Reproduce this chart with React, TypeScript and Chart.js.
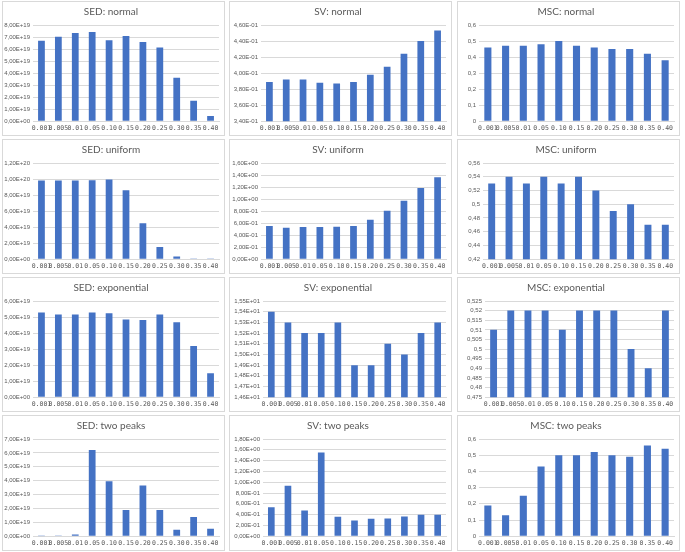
import React, { useEffect, useRef } from "react";
import { Chart, registerables } from "chart.js";

Chart.register(...registerables);

// ---- data ----
const categories = ["0.001", "0.005", "0.01", "0.05", "0.10", "0.15", "0.20", "0.25", "0.30", "0.35", "0.40"];

const titles = [
  "SED: normal", "SV: normal", "MSC: normal",
  "SED: uniform", "SV: uniform", "MSC: uniform",
  "SED: exponential", "SV: exponential", "MSC: exponential",
  "SED: two peaks", "SV: two peaks", "MSC: two peaks",
];

const sedNormal = [6.68e19, 7.03e19, 7.34e19, 7.42e19, 6.73e19, 7.09e19, 6.59e19, 6.12e19, 3.61e19, 1.71e19, 0.44e19];
const svNormal = [0.389, 0.392, 0.392, 0.388, 0.387, 0.389, 0.398, 0.408, 0.424, 0.44, 0.453];
const mscNormal = [0.46, 0.47, 0.47, 0.48, 0.5, 0.47, 0.46, 0.45, 0.45, 0.42, 0.38];

const sedUniform = [9.81e19, 9.81e19, 9.81e19, 9.85e19, 9.94e19, 8.61e19, 4.47e19, 1.53e19, 0.33e19, 0.04e19, 0.01e19];
const svUniform = [0.552, 0.524, 0.535, 0.535, 0.541, 0.552, 0.657, 0.806, 0.971, 1.186, 1.363];
const mscUniform = [0.53, 0.54, 0.53, 0.54, 0.53, 0.54, 0.52, 0.49, 0.5, 0.47, 0.47];

const sedExponential = [5.28e19, 5.16e19, 5.16e19, 5.28e19, 5.24e19, 4.84e19, 4.82e19, 5.16e19, 4.68e19, 3.19e19, 1.49e19];
const svExponential = [15.4, 15.3, 15.2, 15.2, 15.3, 14.9, 14.9, 15.1, 15.0, 15.2, 15.3];
const mscExponential = [0.51, 0.52, 0.52, 0.52, 0.51, 0.52, 0.52, 0.52, 0.5, 0.49, 0.52];

const sedTwoPeaks = [0.005e19, 0.05e19, 0.12e19, 6.2e19, 3.95e19, 1.89e19, 3.66e19, 1.89e19, 0.47e19, 1.39e19, 0.54e19];
const svTwoPeaks = [0.535, 0.936, 0.474, 1.55, 0.359, 0.292, 0.322, 0.328, 0.365, 0.395, 0.395];
const mscTwoPeaks = [0.19, 0.13, 0.25, 0.43, 0.5, 0.5, 0.52, 0.5, 0.49, 0.56, 0.54];

// y-axis tick ranges: [min, max, step]
const yMins = [0, 0.34, 0, 0, 0, 0.42, 0, 14.6, 0.475, 0, 0, 0];
const yMaxs = [8e19, 0.46, 0.6, 1.2e20, 1.6, 0.56, 6e19, 15.5, 0.525, 7e19, 1.8, 0.6];
const ySteps = [1e19, 0.02, 0.1, 2e19, 0.2, 0.02, 1e19, 0.1, 0.005, 1e19, 0.2, 0.1];

const seriesList = [
  sedNormal, svNormal, mscNormal,
  sedUniform, svUniform, mscUniform,
  sedExponential, svExponential, mscExponential,
  sedTwoPeaks, svTwoPeaks, mscTwoPeaks,
];

// ---- formatting ----
function sci(v: number): string {
  if (Math.abs(v) < 1e-300) return "0,00E+00";
  const s = v.toExponential(2);
  const [m, e] = s.split("e");
  const n = parseInt(e, 10);
  const sign = n < 0 ? "-" : "+";
  return m.replace(".", ",") + "E" + sign + String(Math.abs(n)).padStart(2, "0");
}
function gen(v: number): string {
  return parseFloat(v.toFixed(4)).toString().replace(".", ",");
}

const GRAY = "#595959";
const GRID = "#d9d9d9";
const BAR = "#4472C4";

const colLefts = [2, 229, 457];
const rowTops = [1, 139, 277, 415];
const rowHeights = [135, 135, 135, 136];
const PW = 223;
// y-axis box widths (layout)
const yWidths = [30, 31, 21, 30, 31, 25, 30, 33, 27, 30, 33, 21];

function Panel(props: {
  title: string;
  values: number[];
  min: number;
  max: number;
  step: number;
  fmt: (v: number) => string;
  left: number;
  top: number;
  height: number;
  yWidth: number;
}) {
  const ref = useRef<HTMLCanvasElement | null>(null);
  useEffect(() => {
    if (!ref.current) return;
    const chart = new Chart(ref.current, {
      type: "bar",
      data: {
        labels: categories,
        datasets: [
          {
            data: props.values,
            backgroundColor: BAR,
            borderWidth: 0,
            barPercentage: 0.4,
            categoryPercentage: 1,
          },
        ],
      },
      options: {
        animation: false,
        responsive: false,
        maintainAspectRatio: false,
        layout: { padding: { left: 0, right: 5, top: 0, bottom: 0 } },
        plugins: {
          legend: { display: false },
          tooltip: { enabled: false },
          title: {
            display: true,
            text: props.title,
            color: GRAY,
            font: { family: "Lato, 'Liberation Sans', sans-serif", size: 10, weight: "normal" },
            padding: { top: 4, bottom: 7 },
          },
        },
        scales: {
          x: {
            grid: { display: false, drawTicks: false },
            border: { display: true, color: GRID },
            ticks: {
              autoSkip: false,
              maxRotation: 0,
              minRotation: 0,
              color: GRAY,
              font: { family: "'DejaVu Sans Mono', monospace", size: 6.5 },
              padding: 3,
            },
          },
          y: {
            min: props.min,
            max: props.max,
            grid: { color: GRID, drawTicks: false },
            border: { display: false },
            afterFit: (scale: any) => {
              scale.width = props.yWidth;
            },
            ticks: {
              autoSkip: false,
              stepSize: props.step,
              color: GRAY,
              font: { family: "'Liberation Sans', sans-serif", size: 6 },
              padding: 3,
              callback: (v: any) => props.fmt(Number(v)),
            },
          },
        },
      },
    } as any);
    return () => chart.destroy();
  }, []);
  return (
    <div
      style={{
        position: "absolute",
        left: props.left,
        top: props.top,
        width: PW,
        height: props.height,
        boxSizing: "border-box",
        border: "1px solid " + GRID,
        background: "#fff",
      }}
    >
      <canvas ref={ref} width={PW - 2} height={props.height - 2} style={{ display: "block" }} />
    </div>
  );
}

export default function App() {
  return (
    <div style={{ position: "absolute", left: 0, top: 0, width: 685, height: 552, background: "#fff" }}>
      {seriesList.map((vals, i) => {
        const col = i % 3;
        const row = Math.floor(i / 3);
        return (
          <Panel
            key={i}
            title={titles[i]}
            values={vals}
            min={yMins[i]}
            max={yMaxs[i]}
            step={ySteps[i]}
            fmt={col === 2 ? gen : sci}
            left={colLefts[col]}
            top={rowTops[row]}
            height={rowHeights[row]}
            yWidth={yWidths[i]}
          />
        );
      })}
    </div>
  );
}
